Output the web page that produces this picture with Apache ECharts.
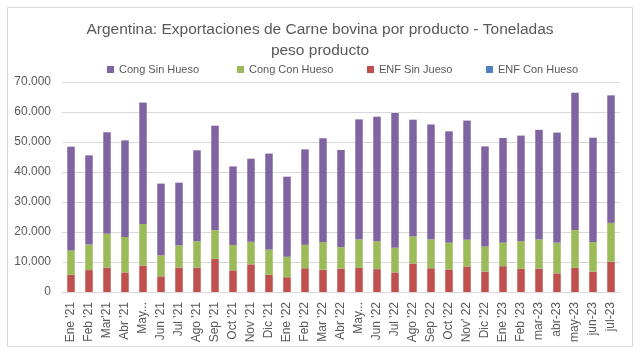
<!DOCTYPE html>
<html><head><meta charset="utf-8">
<script src="https://cdn.jsdelivr.net/npm/echarts@6/dist/echarts.min.js"></script>
<style>html,body{margin:0;padding:0;background:#fff}#c{width:640px;height:354px}</style>
</head><body><div id="c"></div>
<script>
const categories = ["Ene '21","Feb '21","Mar'21","Abr '21","May '21","Jun '21","Jul '21","Ago '21","Sep '21","Oct '21","Nov '21","Dic '21","Ene '22","Feb '22","Mar '22","Abr '22","May '22","Jun '22","Jul '22","Ago '22","Sep '22","Oct '22","Nov' 22","Dic '22","Ene '23","Feb '23","mar-23","abr-23","may-23","jun-23","jul-23"];
const enfSinHueso = [5700,7300,8100,6500,8800,5200,8100,8100,11000,7200,9200,5700,4900,7900,7400,7800,8000,7600,6500,9500,7900,7500,8500,6800,8600,7700,7800,6200,8000,6800,10100];
const congConHueso = [8100,8500,11300,11800,13800,7000,7400,8800,9600,8400,7500,8400,6800,7800,9200,7100,9500,9300,8200,9000,9600,8900,8900,8300,7800,9200,9700,10200,12600,9800,12900];
const congSinHueso = [34600,29700,33800,32200,40500,23900,20900,30300,34800,26200,27700,32000,26700,31800,34600,32400,40000,41500,44900,38900,38300,37100,39700,33400,34900,35200,36500,36700,45800,34800,42500];
const enfConHueso = [40,40,40,40,40,40,40,40,40,40,40,40,40,40,40,40,40,40,40,40,40,40,40,40,40,40,40,40,40,40,40];
const yTicks = [0,10000,20000,30000,40000,50000,60000,70000];
const seriesNames = ["Cong Sin Hueso","Cong Con Hueso","ENF Sin Jueso","ENF Con Hueso"];

const chart = echarts.init(document.getElementById('c'), null, {renderer:'canvas'});
const txt = '#595959';
const fnt = 'Liberation Sans';
function fmt(v){ return String(v).replace(/\B(?=(\d{3})+(?!\d))/g,'.'); }
const bw = 7.5;
const legendLeft = [107,237,367,486];
const legends = seriesNames.map(function(n,i){
  return {left:legendLeft[i],top:64,padding:0,itemWidth:7,itemHeight:7,icon:'rect',
    textStyle:{fontFamily:fnt,fontSize:11,color:txt},data:[n]};
});
chart.setOption({
  animation:false,
  backgroundColor:'#fff',
  graphic:[{type:'rect',shape:{x:7.5,y:7.5,width:625,height:339},style:{fill:'none',stroke:'#D9D9D9',lineWidth:1}}],
  title:{text:'Argentina: Exportaciones de Carne bovina por producto - Toneladas\npeso producto',left:'center',top:14,
    textStyle:{fontFamily:fnt,fontSize:15.5,fontWeight:'normal',color:txt,lineHeight:21}},
  legend:legends,
  grid:{left:62,right:20,top:82,bottom:62},
  xAxis:{type:'category',data:categories,
    axisLine:{lineStyle:{color:'#D9D9D9'}},axisTick:{show:false},
    axisLabel:{rotate:90,interval:0,fontFamily:fnt,fontSize:12,color:txt,margin:10,
      formatter:function(v){return v.indexOf('May')===0?'May...':v;}}},
  yAxis:{type:'value',min:0,max:70000,interval:10000,
    axisLine:{show:false},axisTick:{show:false},
    splitLine:{lineStyle:{color:'#D9D9D9'}},
    axisLabel:{fontFamily:fnt,fontSize:12,color:txt,margin:11,formatter:function(v){return yTicks.indexOf(v)>=0?fmt(v):'';}}},
  series:[
    {name:seriesNames[2],type:'bar',stack:'a',barWidth:bw,data:enfSinHueso,itemStyle:{color:'#C0504D'}},
    {name:seriesNames[3],type:'bar',stack:'a',barWidth:bw,data:enfConHueso,itemStyle:{color:'#4F81BD'}},
    {name:seriesNames[1],type:'bar',stack:'a',barWidth:bw,data:congConHueso,itemStyle:{color:'#9BBB59'}},
    {name:seriesNames[0],type:'bar',stack:'a',barWidth:bw,data:congSinHueso,itemStyle:{color:'#8064A2'}}
  ]
});
</script></body></html>
